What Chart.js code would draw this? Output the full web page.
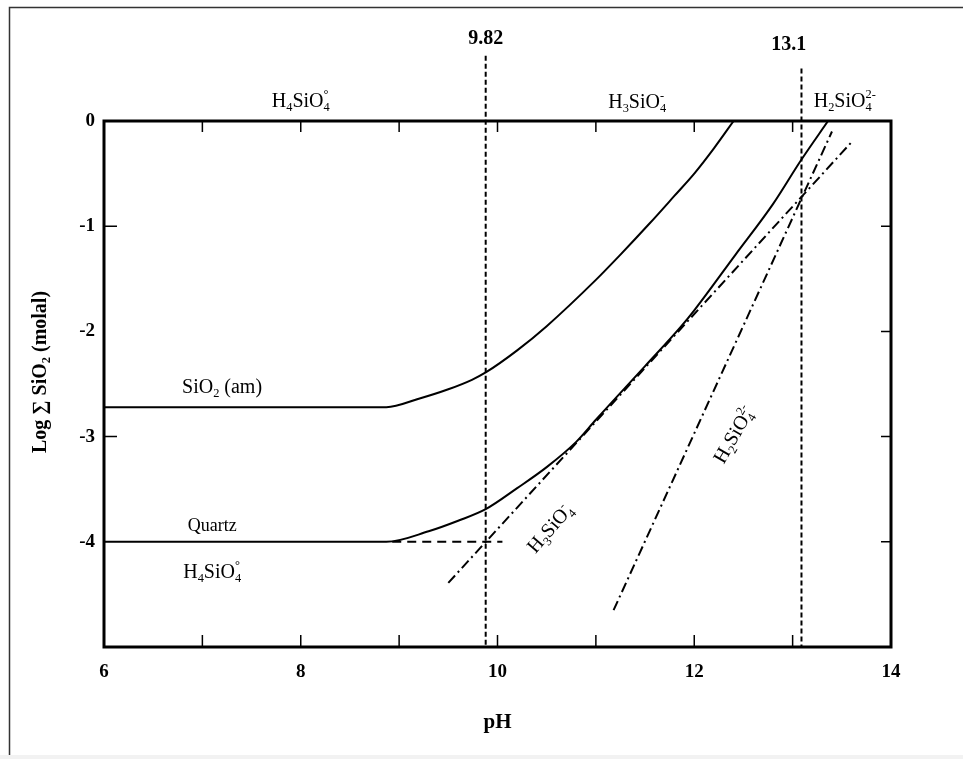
<!DOCTYPE html>
<html>
<head>
<meta charset="utf-8">
<script src="https://cdn.jsdelivr.net/npm/chart.js@4.4.1/dist/chart.umd.min.js"></script>
<style>
html, body { margin: 0; padding: 0; background: #fff; }
</style>
</head>
<body>
<canvas id="chart" width="963" height="759"></canvas>
<script>
// ============= Data =============

// SiO2 (am) solubility
const amPH  = [6, 8, 8.87, 9.2, 9.5, 9.74, 9.88, 10.2, 10.5, 11.0, 11.25, 11.55, 11.8, 12.0, 12.2, 12.4];
const amLog = [-2.72, -2.72, -2.72, -2.64, -2.55, -2.46, -2.39, -2.18, -1.95, -1.51, -1.27, -0.97, -0.71, -0.50, -0.26, 0];

// Quartz solubility
const qzPH  = [6, 8, 8.87, 9.3, 9.6, 9.88, 10.2, 10.5, 10.8, 11.0, 11.5, 11.86, 12.0, 12.42, 12.8, 13.08, 13.36];
const qzLog = [-4, -4, -4, -3.90, -3.80, -3.69, -3.49, -3.29, -3.05, -2.84, -2.33, -1.96, -1.80, -1.27, -0.79, -0.38, 0];

// species lines (quartz)
const h4PH  = [8.93, 10.05];
const h4Log = [-4, -4];
const h3PH  = [9.50, 13.59];
const h3Log = [-4.39, -0.21];
const h2PH  = [11.18, 13.40];
const h2Log = [-4.65, -0.10];

// pK lines
const pK1PH  = [9.88, 9.88];
const pK1Log = [0.62, -5];
const pK2PH  = [13.09, 13.09];
const pK2Log = [0.50, -5];

const xTickMarks = [7, 8, 9, 10, 11, 12, 13];
const yTickMarksLeft = [-1, -3];
const yTickMarksRight = [-1, -2, -3, -4];

// ============= Utility =============

const SERIF = "'Liberation Serif', 'Times New Roman', serif";

function toPoints(xs, ys)
{
	return xs.map((x, i) => ({ x, y: ys[i] }));
}

function line(xs, ys, dash, extra)
{
	return Object.assign({
		data: toPoints(xs, ys),
		showLine: true,
		borderColor: "#000",
		borderWidth: 2,
		borderDash: dash,
		pointRadius: 0,
		fill: false
	}, extra);
}

// text with _{sub} and ^{sup}; a sup right after a sub is stacked on it
function drawChem(ctx, text, x, y, size, weight, angle)
{
	const parts = [];
	const re = /([_^])\{([^}]*)\}|([^_^]+)/g;
	let m;
	while ((m = re.exec(text))) parts.push(m[3] !== undefined ? { t: m[3], k: "n" } : { t: m[2], k: m[1] });

	const font = s => `${weight} ${s}px ${SERIF}`;
	const small = size * 0.62;

	let cx = 0, subStart = 0, subW = 0;
	const items = [];
	for (let i = 0; i < parts.length; i++)
	{
		const p = parts[i];
		ctx.font = font(p.k === "n" ? size : small);
		const w = ctx.measureText(p.t).width;
		if (p.k === "^" && i > 0 && parts[i - 1].k === "_")
		{
			items.push({ ...p, x: subStart });
			cx = subStart + Math.max(subW, w);
		}
		else
		{
			items.push({ ...p, x: cx });
			if (p.k === "_") { subStart = cx; subW = w; }
			cx += w;
		}
	}

	ctx.save();
	ctx.translate(x, y);
	ctx.rotate(angle * Math.PI / 180);
	ctx.fillStyle = "#000";
	ctx.textBaseline = "alphabetic";
	for (const it of items)
	{
		ctx.font = font(it.k === "n" ? size : small);
		const dy = it.k === "_" ? size * 0.22 : it.k === "^" ? -size * 0.42 : 0;
		ctx.fillText(it.t, it.x - cx / 2, dy + size * 0.33);
	}
	ctx.restore();
}

// ============= Plugin: frame, inner ticks, labels =============

const diagramDecor = {
	id: "diagramDecor",

	beforeDraw(chart)
	{
		const ctx = chart.ctx;
		ctx.save();
		ctx.fillStyle = "#fff";
		ctx.fillRect(0, 0, chart.width, chart.height);
		ctx.fillStyle = "#f2f2f2";
		ctx.fillRect(0, 755, chart.width, chart.height - 755);
		ctx.strokeStyle = "#333";
		ctx.lineWidth = 1.5;
		ctx.beginPath();
		ctx.moveTo(chart.width, 7.5);
		ctx.lineTo(9.5, 7.5);
		ctx.lineTo(9.5, 755);
		ctx.stroke();
		ctx.restore();
	},

	afterDatasetsDraw(chart)
	{
		const ctx = chart.ctx;
		const { left, right, top, bottom } = chart.chartArea;
		const sx = chart.scales.x, sy = chart.scales.y;

		ctx.save();
		ctx.strokeStyle = "#000";
		ctx.lineWidth = 3;
		ctx.strokeRect(left, top, right - left, bottom - top);

		ctx.lineWidth = 1.5;
		ctx.beginPath();
		for (const v of xTickMarks)
		{
			const px = sx.getPixelForValue(v);
			ctx.moveTo(px, bottom); ctx.lineTo(px, bottom - 12);
			ctx.moveTo(px, top); ctx.lineTo(px, top + 11);
		}
		for (const v of yTickMarksLeft)
		{
			const py = sy.getPixelForValue(v);
			ctx.moveTo(left, py); ctx.lineTo(left + 13, py);
		}
		for (const v of yTickMarksRight)
		{
			const py = sy.getPixelForValue(v);
			ctx.moveTo(right, py); ctx.lineTo(right - 10, py);
		}
		ctx.stroke();
		ctx.restore();

		const at = (x, y) => [sx.getPixelForValue(x), sy.getPixelForValue(y)];

		// species regions along the top
		drawChem(ctx, "H_{4}SiO_{4}^{°}", ...at(8.0, 0.2), 20, "normal", 0);
		drawChem(ctx, "H_{3}SiO_{4}^{-}", ...at(11.42, 0.19), 20, "normal", 0);
		drawChem(ctx, "H_{2}SiO_{4}^{2-}", ...at(13.53, 0.2), 20, "normal", 0);

		// pK values
		drawChem(ctx, "9.82", ...at(9.88, 0.79), 20, "bold", 0);
		drawChem(ctx, "13.1", ...at(12.96, 0.74), 20, "bold", 0);

		// curve labels
		drawChem(ctx, "SiO_{2} (am)", ...at(7.2, -2.52), 20, "normal", 0);
		drawChem(ctx, "Quartz", ...at(7.1, -3.84), 18, "normal", 0);
		drawChem(ctx, "H_{4}SiO_{4}^{°}", ...at(7.1, -4.28), 20, "normal", 0);
		drawChem(ctx, "H_{3}SiO_{4}^{-}", ...at(10.53, -3.87), 20, "normal", -49);
		drawChem(ctx, "H_{2}SiO_{4}^{2-}", ...at(12.4, -2.98), 20, "normal", -60);

		// y axis title
		drawChem(ctx, "Log ∑ SiO_{2} (molal)", 39, 372, 20, "bold", -90);
	}
};

// ============= Chart =============

Chart.defaults.font.family = SERIF;
Chart.defaults.color = "#000";

new Chart(document.getElementById("chart"), {
	type: "scatter",
	data: {
		datasets: [
			line(amPH, amLog, [], { cubicInterpolationMode: "monotone" }),
			line(qzPH, qzLog, [], { cubicInterpolationMode: "monotone" }),
			line(h4PH, h4Log, [9, 6]),
			line(h3PH, h3Log, [10, 4, 2, 4]),
			line(h2PH, h2Log, [10, 4, 2, 4]),
			line(pK1PH, pK1Log, [5, 3], { clip: false }),
			line(pK2PH, pK2Log, [5, 3], { clip: false })
		]
	},
	options: {
		responsive: false,
		animation: false,
		layout: { padding: { top: 121, right: 72, left: 0, bottom: 0 } },
		plugins: { legend: { display: false }, tooltip: { enabled: false } },
		scales: {
			x: {
				type: "linear",
				min: 6,
				max: 14,
				grid: { display: false, drawTicks: false },
				border: { display: false },
				ticks: { stepSize: 2, padding: 14, font: { size: 19, weight: "bold" } },
				title: { display: true, text: "pH", font: { size: 21, weight: "bold" }, padding: { top: 0, bottom: 24 } },
				afterFit: s => { s.height = 112; }
			},
			y: {
				type: "linear",
				min: -5,
				max: 0,
				grid: { display: false, drawTicks: false },
				border: { display: false },
				ticks: { stepSize: 1, padding: 9, font: { size: 19, weight: "bold" }, callback: v => v === -5 ? "" : String(v) },
				afterFit: s => { s.width = 104; }
			}
		}
	},
	plugins: [diagramDecor]
});
</script>
</body>
</html>
